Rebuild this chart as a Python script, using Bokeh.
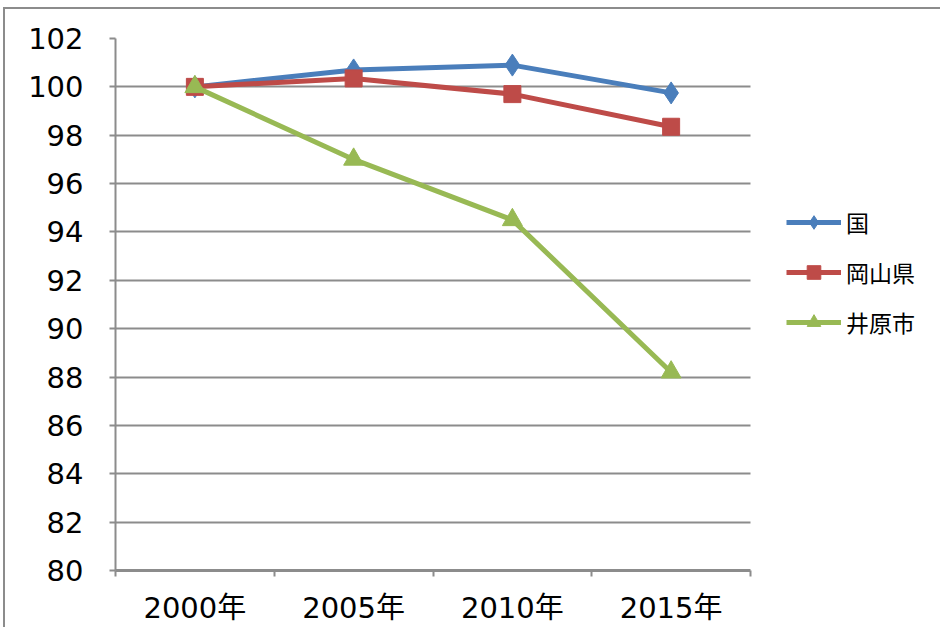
from bokeh.plotting import figure
from bokeh.models import FixedTicker, Legend, LegendItem
from bokeh.embed import file_html
from bokeh.resources import INLINE

years = ["2000年", "2005年", "2010年", "2015年"]
kuni = [100.0, 100.7, 100.9, 99.75]
okayama = [100.0, 100.35, 99.7, 98.35]
ibara = [100.0, 97.0, 94.5, 88.2]
y_ticks = list(range(80, 103, 2))

n = len(years)
xs = [i + 0.5 for i in range(n)]

plot_w = 635      # width of the drawn chart area (px)
frame_w = 820     # frame including room for the legend
p = figure(frame_width=frame_w, frame_height=532, output_backend="svg", toolbar_location=None,
           x_range=(0, n * frame_w / plot_w), y_range=(80, 102),
           min_border_left=110, min_border_right=5, min_border_top=29, min_border_bottom=57)
p.styles = {"margin-left": "3px", "margin-top": "7px",
            "border-left": "2px solid #8c8c8c", "border-top": "2px solid #8c8c8c"}
p.outline_line_color = None
p.background_fill_color = "white"
p.border_fill_color = "white"

font_main = "DejaVu Sans, Noto Sans CJK JP"

p.xaxis.ticker = FixedTicker(ticks=xs, minor_ticks=list(range(n + 1)))
p.xaxis.bounds = (0, n)
p.xaxis.major_label_overrides = {x: y for x, y in zip(xs, years)}
p.xaxis.major_tick_line_color = None
p.xaxis.minor_tick_line_color = "#8c8c8c"
p.xaxis.minor_tick_line_width = 2
p.xaxis.minor_tick_out = 6
p.xaxis.minor_tick_in = 0
p.xaxis.axis_line_color = "#8c8c8c"
p.xaxis.axis_line_width = 3
p.xaxis.major_label_text_font = font_main
p.xaxis.major_label_text_font_size = "29px"
p.xaxis.major_label_text_color = "black"
p.xaxis.major_label_standoff = 14

p.yaxis.ticker = FixedTicker(ticks=y_ticks)
p.yaxis.minor_tick_line_color = None
p.yaxis.major_tick_line_color = "#8c8c8c"
p.yaxis.major_tick_line_width = 2
p.yaxis.major_tick_out = 6
p.yaxis.major_tick_in = 0
p.yaxis.axis_line_color = "#8c8c8c"
p.yaxis.axis_line_width = 2
p.yaxis.major_label_text_font = font_main
p.yaxis.major_label_text_font_size = "29px"
p.yaxis.major_label_text_color = "black"
p.yaxis.major_label_standoff = 26

p.xgrid.grid_line_color = None
p.ygrid.ticker = FixedTicker(ticks=y_ticks)
p.ygrid.cross_bounds = (0, n)
p.ygrid.grid_line_color = "#8c8c8c"
p.ygrid.grid_line_width = 2

series = [
    ("国", kuni, "#4A7EBB", "diamond", 22),
    ("岡山県", okayama, "#BE4B48", "square", 17),
    ("井原市", ibara, "#98B954", "triangle", 20),
]
items = []
for name, vals, col, mk, sz in series:
    l = p.line(xs, vals, line_color=col, line_width=5)
    s = p.scatter(xs, vals, marker=mk, size=sz, fill_color=col, line_color=col)
    items.append(LegendItem(label=name, renderers=[l, s]))

legend = Legend(items=items, location=(671, 231))
legend.padding = 0
legend.margin = 0
legend.border_line_color = None
legend.background_fill_alpha = 0
legend.glyph_width = 55
legend.glyph_height = 34
legend.label_height = 34
legend.spacing = 16
legend.label_standoff = 5
legend.label_text_font = "Noto Sans CJK JP"
legend.label_text_font_size = "23px"
legend.label_text_color = "black"
p.add_layout(legend, "center")

open("out.html", "w").write(file_html(p, INLINE))
